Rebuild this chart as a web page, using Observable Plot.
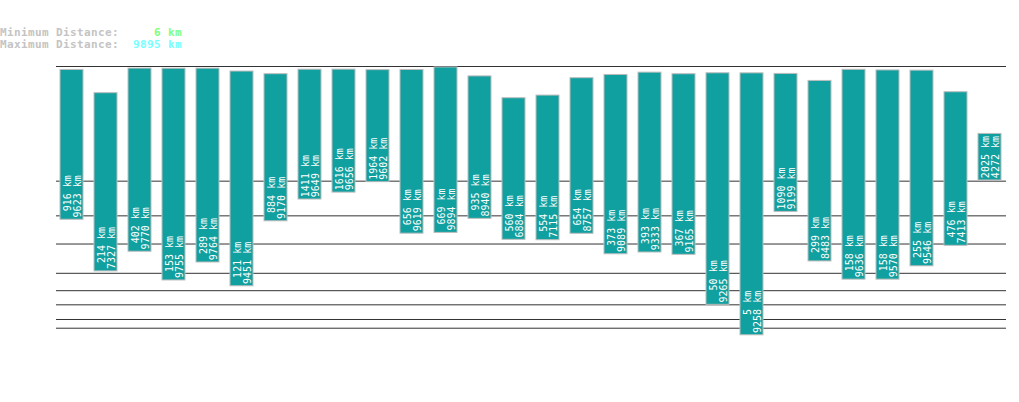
<!DOCTYPE html>
<html>
<head>
<meta charset="utf-8">
<script src="https://cdn.jsdelivr.net/npm/d3@7"></script>
<script src="https://cdn.jsdelivr.net/npm/@observablehq/plot@0.6"></script>
<style>
  html, body { margin: 0; padding: 0; background: #fff; }
  #wrap { position: relative; width: 1019px; height: 402px; overflow: hidden; }
  #head { position: absolute; left: 0; top: 27px; margin: 0;
    font-family: "DejaVu Sans Mono", monospace; font-weight: bold;
    font-size: 11px; letter-spacing: 0.38px; line-height: 11.6px; color: #c4c4c4; white-space: pre; }
  #head div { height: 11.6px; }
  #head .mn { color: #80ff80; }
  #head .mx { color: #78ffff; }
  #chart { position: absolute; left: 0; top: 0; }
</style>
</head>
<body>
<div id="wrap">
  <div id="chart"></div>
  <div id="head"></div>
</div>
<script>
// Data
const routes = ["1","2","3","4","5","6","7","8","9","10","11","12","13","14","15","16","17","18","19","20","21","22","23","24","25","26","27","28"];
const minKm = [916, 214, 402, 153, 289, 121, 884, 1411, 1616, 1964, 656, 669, 935, 560, 554, 654, 373, 393, 367, 50, 5, 1090, 299, 158, 158, 255, 476, 2025];
const maxKm = [9623, 7327, 9770, 9755, 9764, 9451, 9170, 9649, 9656, 9602, 9619, 9894, 8940, 6884, 7115, 8757, 9089, 9333, 9165, 9265, 9258, 9199, 8483, 9636, 9570, 9546, 7413, 4272];
const gridKm = [10, 20, 50, 100, 200, 500, 1000, 2000, 10000];
const headerMin = "6 km";
const headerMax = "9895 km";

const rows = routes.map((r, i) => ({route: r, min: minKm[i], max: maxKm[i]}));

const head = document.getElementById("head");
const pad = (s) => " ".repeat(Math.max(0, 9 - s.length));
head.innerHTML = '<div>Minimum Distance:' + pad(headerMin) + '<span class="mn">' + headerMin + '</span></div>' +
                 '<div>Maximum Distance:' + pad(headerMax) + '<span class="mx">' + headerMax + '</span></div>';

const chart = Plot.plot({
  width: 1019,
  height: 402,
  marginLeft: 56,
  marginRight: 13,
  marginTop: 66,
  marginBottom: 36,
  x: {type: "band", domain: routes, paddingInner: 0.32, paddingOuter: 0.13, axis: null},
  y: {type: "pow", exponent: 0.3, domain: [0, 10000], range: [365.4, 66], axis: null},
  style: {background: "transparent"},
  marks: [
    Plot.ruleY(gridKm, {stroke: "#333", strokeWidth: 1}),
    Plot.barY(rows, {x: "route", y1: "min", y2: "max", fill: "#11a0a0", stroke: "#bdbdbd", strokeWidth: 1}),
    Plot.text(rows, {
      x: "route", y: "min",
      text: d => d.min + " km\n" + d.max + " km",
      rotate: -90, textAnchor: "end", lineAnchor: "middle", lineHeight: 1.05,
      dy: -44.5, dx: 0.5,
      fill: "white", fontSize: 10, fontFamily: "DejaVu Sans Mono"
    })
  ]
});
document.getElementById("chart").appendChild(chart);
</script>
</body>
</html>
